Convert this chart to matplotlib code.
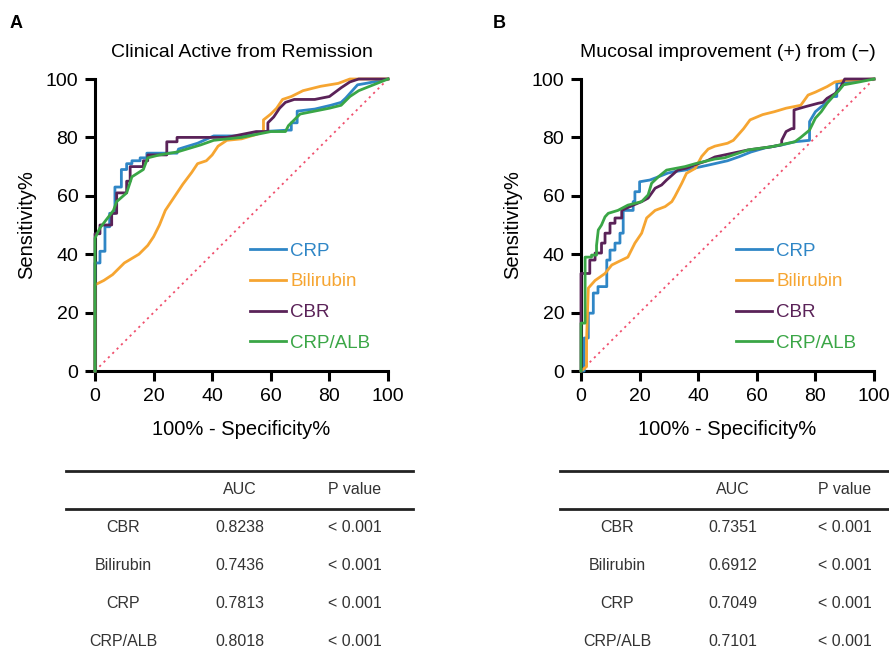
import numpy as np
import matplotlib
matplotlib.use("Agg")
import matplotlib.pyplot as plt
from matplotlib.lines import Line2D

plt.rcParams['font.family'] = ['Liberation Sans', 'DejaVu Sans']

#####################################################################
# ROC curves, panel A (Clinical Active from Remission)
a_crp_x = [0,0,1.7,1.7,3.4,3.4,5,5,6.8,6.8,9,9,10.8,10.8,12.6,12.6,15.4,15.4,17.7,17.7,28,28.5,35,40.5,50,57.5,66,67,67,69,69,75,80.5,84,85.6,89.6,93,100]
a_crp_y = [0,37,37,41,41,49.4,49.4,54,54,63,63,69,69,71,71,72,72,73,73,74.6,74.6,76,78,80.5,80.5,82,82.5,82.5,85,85,89,89.7,91,92,93.5,98,98.6,100]

a_bili_x = [0,0,3,6,10,15,18,20,22,24,26,28,30,33,35,38,40,42,45,50,55,57.5,57.5,60,62,64,67,71,77,83,87,100]
a_bili_y = [0,29.5,31,33,37,40,43,46,50,55,58,61,64,68,71,72,74,77,79,79.5,81,82,86,88,90,93,94,96,97.5,98.5,100,100]

a_cbr_x = [0,0,1.7,1.7,5.7,5.7,7.4,7.4,10.8,10.8,12,12,16.5,16.5,18,18,24.5,24.5,28,28,45,50,55,59,59,61,63,65,68,75,80,84,87,90,100]
a_cbr_y = [0,47,47,50,50,54,54,61,61,65,65,70,70,72,72,74,74,78.5,78.5,80,80,81,82,82,85,87,90,92,93,93,94,97,99,100,100]

a_alb_x = [0,0,1.7,4,6.3,7.4,10.8,12.6,16.5,18,22,28,36,40.5,50,55,60,65,66,68,70,75,80,84,87,90,95,100]
a_alb_y = [0,45.5,49,52,55,58,61,66.5,69,73,74,75,77.4,79,80,81,82,82,84,86,88,89,90,91,94,96,98,100]

# ROC curves, panel B (Mucosal improvement)
b_crp_x = [0,1.1,1.1,2.5,2.5,4.2,4.2,5.8,5.8,8.8,8.8,9.9,9.9,11.6,11.6,13.3,13.3,14.4,14.4,17.8,17.8,18.4,18.4,20,20,23.5,26.4,29.7,32,35.5,43.4,50,54,58,62.8,68.5,73,78,78,80,82,84,86,87.3,87.3,91,100]
b_crp_y = [0,0,11.3,11.3,19.8,19.8,26.7,26.7,28.9,28.9,38,38,41.4,41.4,43.8,43.8,47.2,47.2,55,55,58,58,61.4,61.4,64.8,65.4,66.5,67.8,68.3,68.8,70.5,72,73.4,75,76.4,77.4,78.5,79,85.4,88.8,90.5,92,94,94,98.6,99,100]

b_bili_x = [0,1.9,1.9,2.5,4.8,8.2,10.5,12.7,16,18.4,20.7,22.4,25.3,28.7,31,32,34.4,36,39,41.2,43.4,45.7,50,52,55.5,57.7,62,66,70,75,77.5,80,84,86.7,90,100]
b_bili_y = [0,1.5,10.6,28.4,31,33.4,36.3,37.4,39,43.8,47.2,52.4,55,56.3,58,59.7,64.3,67.7,69.4,73.5,76,77,78,79,83,86,87.8,88.8,90,91,94.5,95.5,97.4,99,99.5,100]

b_cbr_x = [0,0,3,3,4.8,4.8,7,7,8.2,8.2,9.9,9.9,11.6,11.6,13.9,13.9,17.8,20.7,22.9,25.3,27.5,29.2,31,33,36,40,43,45.7,57,65,68.5,68.5,70,71.9,72.7,72.7,76.5,81,82.6,84,86.7,88.5,90,100]
b_cbr_y = [0,33.4,33.4,38,38,40.4,40.4,43.8,43.8,47.2,47.2,50.6,50.6,52.4,52.4,55,56.8,58,59.2,62.6,63.7,65.4,67,68.8,69.5,71,72,73.3,75.7,76.8,77.5,79,82,83,83,89.4,90.5,91.7,92,93.4,95,97,100,100]

b_alb_x = [0,0,1.4,1.4,3.6,3.6,5.3,5.3,5.9,7,8.2,9.3,12.6,16,20.7,22.9,24.1,26.4,29.2,35.5,39,45.7,49,57,65,73,75,78,80,82,84,86,88,89.6,95,100]
b_alb_y = [0,16.4,16.4,39,39,39.7,39.7,43,48.3,50,52.8,54,55,56.8,58,60.3,64.3,66.5,68.8,70,71,72.6,73,75.7,76.8,78.5,80,82.5,86.6,88.8,91.7,94,96,98,99,100]

series_names = ["CRP", "Bilirubin", "CBR", "CRP/ALB"]
series_colors = ["#2f86c6", "#f6a531", "#5a2258", "#3aa646"]

# AUC tables
table_rows = ["CBR", "Bilirubin", "CRP", "CRP/ALB"]
a_auc = ["0.8238", "0.7436", "0.7813", "0.8018"]
b_auc = ["0.7351", "0.6912", "0.7049", "0.7101"]
a_pval = ["< 0.001", "< 0.001", "< 0.001", "< 0.001"]
b_pval = ["< 0.001", "< 0.001", "< 0.001", "< 0.001"]

W, H = 889, 657
fig = plt.figure(figsize=(W/100, H/100), dpi=100)

def fx(px):
	return px / W

def fy(py):
	return 1 - py / H

#####################################################################
def draw_roc(left, title, curves, legend_x):
	ax = fig.add_axes([fx(left), fy(371), fx(293), 292/H])
	ax.plot([0, 100], [0, 100], color="#f0506e", lw=1.3, ls=(0, (1.2, 2.2)), zorder=1)
	for (xs, ys), name, col in zip(curves, series_names, series_colors):
		ax.plot(xs, ys, color=col, lw=2.0, label=name, clip_on=False, zorder=3)
	ax.set_xlim(0, 100)
	ax.set_ylim(0, 100)
	ax.set_xticks(np.arange(0, 101, 20))
	ax.set_yticks(np.arange(0, 101, 20))
	for s in ["top", "right"]:
		ax.spines[s].set_visible(False)
	for s in ["left", "bottom"]:
		ax.spines[s].set_linewidth(2.2)
	ax.tick_params(width=2.2, length=7, labelsize=14, pad=5)
	ax.set_title(title, fontsize=14, pad=16)
	ax.set_xlabel("100% - Specificity%", fontsize=14.5, labelpad=11)
	ax.set_ylabel("Sensitivity%", fontsize=14.5, labelpad=7)
	ax.legend(loc="upper left", bbox_to_anchor=(legend_x, 0.465), frameon=False,
		fontsize=13.5, labelcolor="linecolor", handlelength=1.9, handletextpad=0.22,
		labelspacing=0.72, borderaxespad=0)
	return ax

draw_roc(95, "Clinical Active from Remission",
	[(a_crp_x, a_crp_y), (a_bili_x, a_bili_y), (a_cbr_x, a_cbr_y), (a_alb_x, a_alb_y)], 0.505)
draw_roc(581, "Mucosal improvement (+) from (\u2212)",
	[(b_crp_x, b_crp_y), (b_bili_x, b_bili_y), (b_cbr_x, b_cbr_y), (b_alb_x, b_alb_y)], 0.505)

fig.text(fx(16), fy(24), "A", fontsize=13, fontweight="bold", ha="center", va="center")
fig.text(fx(499), fy(24), "B", fontsize=13, fontweight="bold", ha="center", va="center")

#####################################################################
def draw_table(x0, x1, cx, auc, pval):
	for py in [471, 509]:
		fig.add_artist(Line2D([fx(x0), fx(x1)], [fy(py), fy(py)], color="#222222", lw=2.0))
	tc = "#333333"
	fig.text(fx(cx[1]), fy(490), "AUC", fontsize=11.5, ha="center", va="center", color=tc)
	fig.text(fx(cx[2]), fy(490), "P value", fontsize=11.5, ha="center", va="center", color=tc)
	for i, name in enumerate(table_rows):
		py = [528, 566, 604, 642][i]
		fig.text(fx(cx[0]), fy(py), name, fontsize=11.5, ha="center", va="center", color=tc)
		fig.text(fx(cx[1]), fy(py), auc[i], fontsize=11.5, ha="center", va="center", color=tc)
		fig.text(fx(cx[2]), fy(py), pval[i], fontsize=11.5, ha="center", va="center", color=tc)

draw_table(66, 413, [123, 240, 355], a_auc, a_pval)
draw_table(560, 889, [617, 733, 845], b_auc, b_pval)

fig.savefig("out.png", dpi=100)
